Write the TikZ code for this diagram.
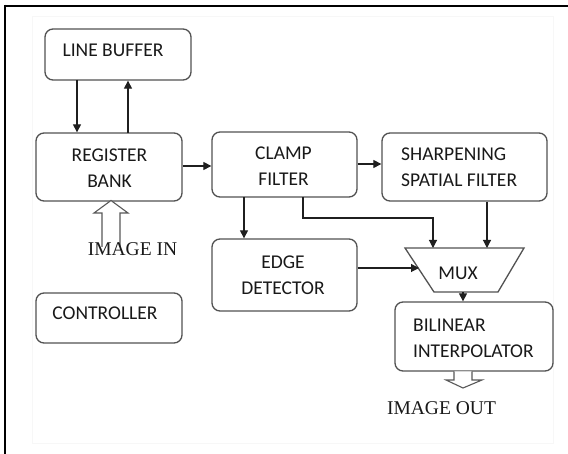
\documentclass[tikz,border=0pt]{standalone}
\usepackage{fontspec}
\setmainfont{Liberation Serif}
\newfontfamily\boxfont{Carlito}
\usetikzlibrary{arrows.meta}

\tikzset{
  blockbox/.style={draw=black!68, line width=1.3pt, rounded corners=8pt, fill=white},
  lbl/.style={font=\boxfont\fontsize{19.5}{26}\selectfont, text=black!90, inner sep=0pt},
  iolbl/.style={font=\fontsize{19.5}{24}\selectfont, text=black!90, inner sep=0pt},
  flow/.style={draw=black!88, line width=1.1pt, -{Triangle[length=8pt,width=8pt]}},
  hollow/.style={draw=black!65, line width=1.1pt, fill=white, line join=miter},
}

\begin{document}
\begin{tikzpicture}[x=1pt, y=-1pt]
\useasboundingbox (0,0) rectangle (568,454);
\fill[white] (0,0) rectangle (568,454);

% faint page area and frame
\draw[black!3, line width=0.8pt] (32,16) rectangle (553,443);
\draw[black, line width=2.3pt] (4,5.8) -- (568,5.8);
\draw[black, line width=2.3pt] (5,4.6) -- (5,454);

% blocks
\node[blockbox, minimum width=146pt, minimum height=51pt] (lb) at (118,54.5) {};
\node[lbl] (lbt) at (113,50.5) {LINE BUFFER};

\node[blockbox, minimum width=146pt, minimum height=68pt] (rb) at (109,167) {};
\node[lbl, align=center] (rbt) at (109.5,168) {REGISTER\\BANK};

\node[blockbox, minimum width=145pt, minimum height=65pt] (cf) at (284.5,164.5) {};
\node[lbl, align=center] (cft) at (283.5,166) {CLAMP\\FILTER};

\node[blockbox, minimum width=165pt, minimum height=68pt] (ssf) at (464.5,167) {};
\node[lbl, align=left, anchor=west] (ssft) at (401,167) {SHARPENING\\SPATIAL FILTER};

\node[blockbox, minimum width=145pt, minimum height=72pt] (ed) at (284.5,275) {};
\node[lbl, align=center] (edt) at (283,275) {EDGE\\DETECTOR};

\node[blockbox, minimum width=146pt, minimum height=50pt] (ctl) at (109,318) {};
\node[lbl] (ctlt) at (105,313.5) {CONTROLLER};

\node[blockbox, minimum width=158pt, minimum height=69pt] (bi) at (474,336.5) {};
\node[lbl, align=left, anchor=west] (bit) at (413,338) {BILINEAR\\INTERPOLATOR};

% multiplexer
\coordinate (mtl) at (405,248);
\coordinate (mtr) at (524,248);
\coordinate (mbr) at (498,292);
\coordinate (mbl) at (434,292);
\draw[draw=black!68, line width=1.3pt, fill=white, line join=miter] (mtl) -- (mtr) -- (mbr) -- (mbl) -- cycle;
\node[lbl] (mux) at (458,273) {MUX};

% connection points
\coordinate (lbdn) at (77,80);
\coordinate (rbup) at (128,133);
\coordinate (muxa) at (433,248);
\coordinate (muxb) at (487,248);
\coordinate (muxl) at (419,268);
\coordinate (cfb) at (303,197);
\coordinate (cfd) at (244,197);
\coordinate (mout) at (463,292);

% data flow
\draw[flow] (lbdn) -- (lbdn |- rb.north);
\draw[flow] (rbup) -- (rbup |- lb.south);
\draw[flow] (rb.east |- 0,166) -- (cf.west |- 0,166);
\draw[flow] (cf.east |- 0,164) -- (ssf.west |- 0,164);
\draw[flow] (cfd) -- (cfd |- ed.north);
\draw[flow] (cfb) -- (303,218) -- (433,218) -- (muxa);
\draw[flow] (ssf.south -| muxb) -- (muxb);
\draw[flow] (ed.east |- muxl) -- (muxl);
\draw[flow] (mout) -- (mout |- bi.north);

% image input / output arrows
\draw[hollow] (102,247) -- (102,213) -- (94,213) -- (111,200.5) -- (128,213) -- (120,213) -- (120,247);
\node[iolbl] (imin) at (132.5,249.5) {IMAGE IN};

\draw[hollow] (454,371.5) -- (454,380) -- (446,380) -- (463,388) -- (482,380) -- (472,380) -- (472,371.5);
\node[iolbl] (imout) at (441.5,408) {IMAGE OUT};
\end{tikzpicture}
\end{document}
